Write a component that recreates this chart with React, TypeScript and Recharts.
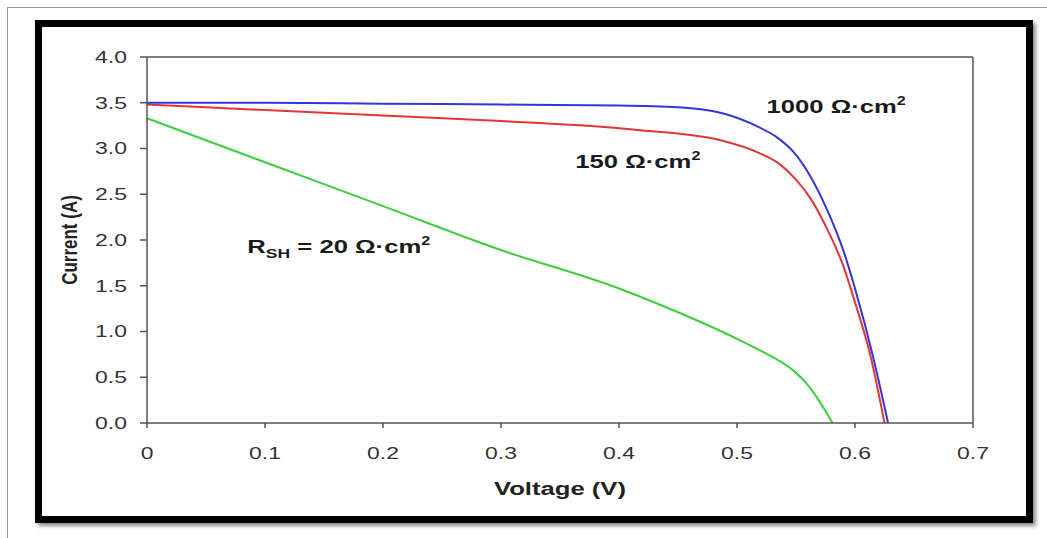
import React from "react";
import { LineChart, Line, XAxis, YAxis, ReferenceLine, ReferenceDot } from "recharts";

// I-V curves for three shunt resistances
const voltsHigh = [0, 0.1, 0.2, 0.3, 0.4, 0.45, 0.486, 0.519, 0.533, 0.548, 0.562, 0.576, 0.59, 0.6, 0.615, 0.628];
const ampsHigh = [3.5, 3.5, 3.49, 3.48, 3.47, 3.45, 3.39, 3.23, 3.13, 2.96, 2.7, 2.34, 1.89, 1.47, 0.74, 0];

const voltsMid = [0, 0.1, 0.2, 0.3, 0.418, 0.486, 0.519, 0.535, 0.55, 0.562, 0.576, 0.59, 0.6, 0.613, 0.625];
const ampsMid = [3.48, 3.42, 3.36, 3.3, 3.2, 3.09, 2.95, 2.84, 2.66, 2.46, 2.13, 1.72, 1.32, 0.74, 0];

const voltsLow = [0, 0.1, 0.2, 0.3, 0.4, 0.45, 0.5, 0.52, 0.548, 0.557, 0.565, 0.581];
const ampsLow = [3.33, 2.85, 2.37, 1.89, 1.47, 1.21, 0.92, 0.79, 0.57, 0.46, 0.33, 0];

const xTicks = [0, 0.1, 0.2, 0.3, 0.4, 0.5, 0.6, 0.7];
const yTicks = [0, 0.5, 1, 1.5, 2, 2.5, 3, 3.5, 4];

const toPoints = (vs: number[], is: number[]) => vs.map((v, k) => ({ v, i: is[k] }));
const highData = toPoints(voltsHigh, ampsHigh);
const midData = toPoints(voltsMid, ampsMid);
const lowData = toPoints(voltsLow, ampsLow);

const SX = 1.35;
const FONT = "Arial, 'Liberation Sans', sans-serif";

const YTick = (p: any) => (
  <text transform={`translate(${p.x},${p.y}) scale(${SX},1)`} textAnchor="end" dy="0.35em"
    fontFamily={FONT} fontSize={17} fill="#333">
    {Number(p.payload.value).toFixed(1)}
  </text>
);

const XTick = (p: any) => (
  <text transform={`translate(${p.x},${p.y}) scale(${SX},1)`} textAnchor="middle" dy="0.35em"
    fontFamily={FONT} fontSize={17} fill="#333">
    {p.payload.value === 0 ? "0" : String(p.payload.value)}
  </text>
);

const Note = ({ cx, cy, rsh, value }: any) => (
  <text transform={`translate(${cx},${cy}) scale(${SX},1)`} fontFamily={FONT} fontWeight="bold"
    fontSize={19} fill="#1a1a1a">
    {rsh ? (
      <>
        <tspan>R</tspan>
        <tspan dy={5} fontSize={13}>SH</tspan>
        <tspan dy={-5}>{` = ${value} Ω·cm`}</tspan>
      </>
    ) : (
      <tspan>{`${value} Ω·cm`}</tspan>
    )}
    <tspan dy={-8} fontSize={12}>2</tspan>
  </text>
);

export default function App() {
  return (
    <div style={{ position: "absolute", left: 0, top: 0, width: 1047, height: 538, background: "#fff" }}>
      <div style={{ position: "absolute", left: 7, top: 7, width: 1040, height: 531, borderLeft: "1px solid #999", borderTop: "1px solid #999" }} />
      <div style={{
        position: "absolute", left: 35, top: 20, width: 998, height: 503, boxSizing: "border-box",
        border: "7px solid #000", boxShadow: "3px 3px 4px rgba(0,0,0,0.45)",
      }} />
      <div style={{ position: "absolute", left: 0, top: 0 }}>
        <LineChart width={1047} height={538} margin={{ top: 57, right: 74, bottom: 35, left: 47 }}>
          <XAxis type="number" dataKey="v" domain={[0, 0.7]} ticks={xTicks} height={80}
            stroke="#555" strokeWidth={1.5} tickSize={5} tickMargin={25} tick={<XTick />}
            label={{
              content: ({ viewBox }: any) => (
                <text transform={`translate(${viewBox.x + viewBox.width / 2},${viewBox.y + 65}) scale(${SX},1)`}
                  textAnchor="middle" dy="0.35em" fontFamily={FONT} fontWeight="bold" fontSize={19} fill="#222">
                  Voltage (V)
                </text>
              ),
            }} />
          <YAxis type="number" domain={[0, 4]} ticks={yTicks} width={100}
            stroke="#555" strokeWidth={1.5} tickSize={7} tickMargin={13} tick={<YTick />}
            label={{
              content: ({ viewBox }: any) => (
                <text transform={`translate(${viewBox.x + 22},${viewBox.y + viewBox.height / 2}) scale(${SX},1) rotate(-90)`}
                  textAnchor="middle" dy="0.35em" fontFamily={FONT} fontWeight="bold" fontSize={17} fill="#222">
                  Current (A)
                </text>
              ),
            }} />
          <ReferenceLine y={4} stroke="#555" strokeWidth={1.5} />
          <ReferenceLine x={0.7} stroke="#555" strokeWidth={1.5} />
          <Line data={lowData} dataKey="i" type="monotone" stroke="#3ccf3c" strokeWidth={2} dot={false} isAnimationActive={false} />
          <Line data={midData} dataKey="i" type="monotone" stroke="#e43434" strokeWidth={2} dot={false} isAnimationActive={false} />
          <Line data={highData} dataKey="i" type="monotone" stroke="#3434d8" strokeWidth={2} dot={false} isAnimationActive={false} />
          <ReferenceDot x={0.525} y={3.39} r={0} shape={(p: any) => <Note cx={p.cx} cy={p.cy} value="1000" />} />
          <ReferenceDot x={0.363} y={2.79} r={0} shape={(p: any) => <Note cx={p.cx} cy={p.cy} value="150" />} />
          <ReferenceDot x={0.085} y={1.86} r={0} shape={(p: any) => <Note cx={p.cx} cy={p.cy} rsh value="20" />} />
        </LineChart>
      </div>
    </div>
  );
}
